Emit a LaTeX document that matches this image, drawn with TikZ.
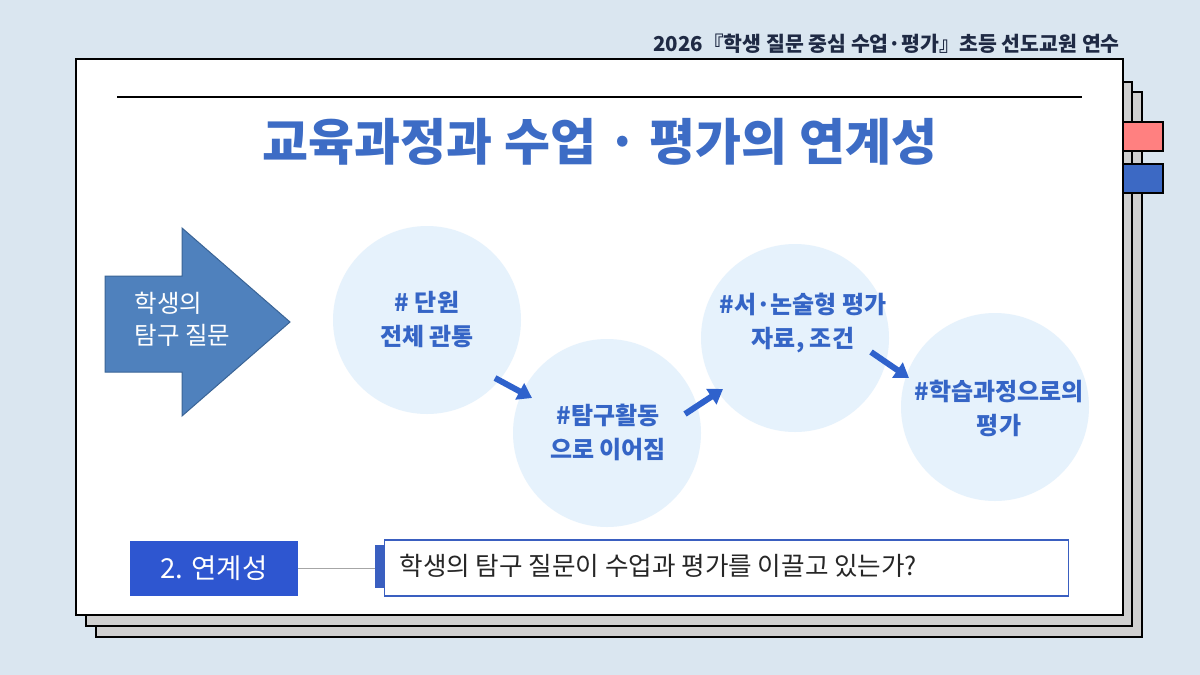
\documentclass[tikz,border=0pt]{standalone}
\usepackage{fontspec}
\setmainfont{Noto Sans CJK KR}
\usepackage{xcolor}
\usetikzlibrary{arrows.meta,positioning,calc}

\definecolor{bgblue}{HTML}{DAE6F0}
\definecolor{pagegray}{HTML}{D0D0D0}
\definecolor{titleblue}{HTML}{3D6CC5}
\definecolor{bubble}{HTML}{E6F2FC}
\definecolor{bubbletext}{HTML}{3565C6}
\definecolor{stepblue}{HTML}{2F62CC}
\definecolor{bigarrow}{HTML}{4F81BD}
\definecolor{bigarrowline}{HTML}{3A6496}
\definecolor{labelblue}{HTML}{2E56D0}
\definecolor{qblue}{HTML}{3A5FC0}
\definecolor{tabpink}{HTML}{FF8080}
\definecolor{tabblue}{HTML}{3C69C4}
\definecolor{navy}{HTML}{1F2A44}

\begin{document}
\begin{tikzpicture}[x=1pt,y=-1pt,
    page/.style={draw=black,line width=1.6pt},
    tab/.style={draw=black,line width=1.4pt},
    bub/.style={circle,fill=bubble,minimum size=188pt,inner sep=0pt},
    bubtxt/.style={text=bubbletext,font=\fontsize{24}{34}\selectfont\bfseries,align=center},
    stepar/.style={-{Triangle[length=14pt,width=18pt]},line width=6pt,draw=stepblue},
    qtxt/.style={font=\fontsize{25.6}{30}\selectfont,text=black!85}
  ]
    \fill[bgblue] (0,0) rectangle (1200,675);
    % stacked pages
    \filldraw[page,fill=pagegray] (96,92) rectangle (1142,637);
    \filldraw[page,fill=pagegray] (86,82) rectangle (1132,626);
    \filldraw[tab,fill=tabpink] (1110,122) rectangle (1163,151);
    \filldraw[tab,fill=tabblue] (1110,164) rectangle (1163,193);
    \filldraw[page,fill=white] (76,59) rectangle (1123,615);
    \node[anchor=east,text=navy,font=\fontsize{20.5}{24}\selectfont\bfseries,inner sep=0pt]
      (head) at (1120,44) {2026『학생 질문 중심 수업·평가』초등 선도교원 연수};
    \draw[line width=2pt] (117,97) -- (1082,97);
    \node[text=titleblue,font=\fontsize{50}{54}\selectfont\bfseries] (title) at (600,142)
      {교육과정과 수업 · 평가의 연계성};

    % big arrow
    \filldraw[fill=bigarrow,draw=bigarrowline,line width=1pt]
      (105,276) -- (182,276) -- (182,228) -- (290,322) -- (182,416) -- (182,372)
      -- (105,372) -- cycle;
    \node[anchor=west,text=white,align=left,font=\fontsize{24.5}{32}\selectfont]
      (quest) at (131,319) {학생의\\탐구 질문};

    % bubbles
    \node[bub] (b1) at (427,320) {};
    \node[bub] (b2) at (607,433) {};
    \node[bub] (b3) at (795,338) {};
    \node[bub] (b4) at (995,407) {};
    \node[bubtxt] (t1) at (427,320) {\# 단원\\전체 관통};
    \node[bubtxt] (t2) at (608,432) {\#탐구활동\\으로 이어짐};
    \node[bubtxt] (t3) at (803,323) {\#서·논술형 평가\\자료, 조건};
    \node[bubtxt] (t4) at (999,408) {\#학습과정으로의\\평가};
    \coordinate (a1s) at (495,378); \coordinate (a1e) at (532,398);
    \coordinate (a2s) at (685,414); \coordinate (a2e) at (723,389);
    \coordinate (a3s) at (871,352); \coordinate (a3e) at (909,378);
    \draw[stepar] (a1s) -- (a1e);
    \draw[stepar] (a2s) -- (a2e);
    \draw[stepar] (a3s) -- (a3e);

    % bottom question
    \node[fill=labelblue,text=white,minimum width=168pt,minimum height=55pt,
      font=\fontsize{27.5}{30}\selectfont] (lbl) at (214,568) {2. 연계성};
    \fill[qblue] (375,545) rectangle (384,588);
    \node[draw=qblue,line width=1.2pt,fill=white,minimum width=684pt,minimum height=56pt,
      anchor=west] (qbox) at (384,568) {};
    \node[qtxt,anchor=west] (qline) at (396,566) {학생의 탐구 질문이 수업과 평가를 이끌고 있는가?};
    \draw[gray!70,line width=1pt] (lbl.east) -- (375,568);
\end{tikzpicture}
\end{document}
